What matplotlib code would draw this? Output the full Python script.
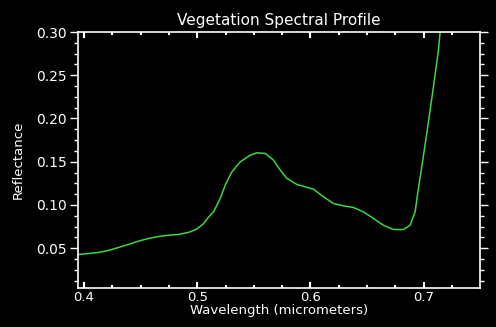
import matplotlib
matplotlib.use("Agg")
import matplotlib.pyplot as plt
from matplotlib.ticker import MultipleLocator, FormatStrFormatter

wavelength = [0.395, 0.4126, 0.4214, 0.4303, 0.4391, 0.4479, 0.4567, 0.4656, 0.4744, 0.4832,
              0.4921, 0.4994, 0.5053, 0.5097, 0.5144, 0.5203, 0.5247, 0.5306, 0.538, 0.5468,
              0.5527, 0.5600, 0.5673, 0.5733, 0.5792, 0.588, 0.5982, 0.6027, 0.6115, 0.6203,
              0.6291, 0.6380, 0.6468, 0.6556, 0.6644, 0.6733, 0.6821, 0.688, 0.6924, 0.6953,
              0.6974, 0.7027, 0.7086, 0.713, 0.7145]
reflectance = [0.0427, 0.0450, 0.0473, 0.0508, 0.0543, 0.0581, 0.0612, 0.0635, 0.0650, 0.0659,
               0.0682, 0.0720, 0.0780, 0.0855, 0.0920, 0.1075, 0.1229, 0.1383, 0.1499, 0.1576,
               0.1603, 0.1596, 0.1519, 0.1403, 0.1307, 0.1237, 0.1198, 0.1183, 0.1094, 0.1017,
               0.0990, 0.0971, 0.0920, 0.0844, 0.0766, 0.0716, 0.0716, 0.0766, 0.0920, 0.1191,
               0.1365, 0.1828, 0.2367, 0.2790, 0.3000]
x_ticks = [0.4, 0.5, 0.6, 0.7]
y_ticks = [0.05, 0.10, 0.15, 0.20, 0.25, 0.30]

fig = plt.figure(figsize=(4.96, 3.27), dpi=100, facecolor="black")
ax = fig.add_axes([78/496, 1-288/327, (480-78)/496, (288-32)/327])
ax.set_facecolor("black")
ax.plot(wavelength, reflectance, color="#3fd63f", lw=1.1)
ax.set_xlim(0.3947, 0.7497)
ax.set_ylim(0.004, 0.30)

ax.set_xticks(x_ticks)
ax.set_yticks(y_ticks)
ax.xaxis.set_minor_locator(MultipleLocator(0.025))
ax.yaxis.set_minor_locator(MultipleLocator(0.0125))
ax.xaxis.set_major_formatter(FormatStrFormatter("%.1f"))
ax.yaxis.set_major_formatter(FormatStrFormatter("%.2f"))

for s in ax.spines.values():
    s.set_color("white")
    s.set_linewidth(1.2)

ax.tick_params(axis="x", which="both", direction="in", top=True, bottom=True,
               colors="white", labelsize=9.5, pad=2)
ax.tick_params(axis="x", which="major", length=4, width=1.5)
ax.tick_params(axis="x", which="minor", length=2.5, width=1.5)
ax.tick_params(axis="y", which="both", direction="out", left=True, right=True,
               colors="white", labelsize=10, pad=2)
ax.tick_params(axis="y", which="major", length=6, width=1)
ax.tick_params(axis="y", which="minor", length=3, width=1)

ax.set_title("Vegetation Spectral Profile", color="white", fontsize=11, pad=5)
ax.set_xlabel("Wavelength (micrometers)", color="white", fontsize=9.5, labelpad=0)
ax.set_ylabel("Reflectance", color="white", fontsize=9.5, labelpad=8)

fig.savefig("out.png", dpi=100, facecolor="black")
